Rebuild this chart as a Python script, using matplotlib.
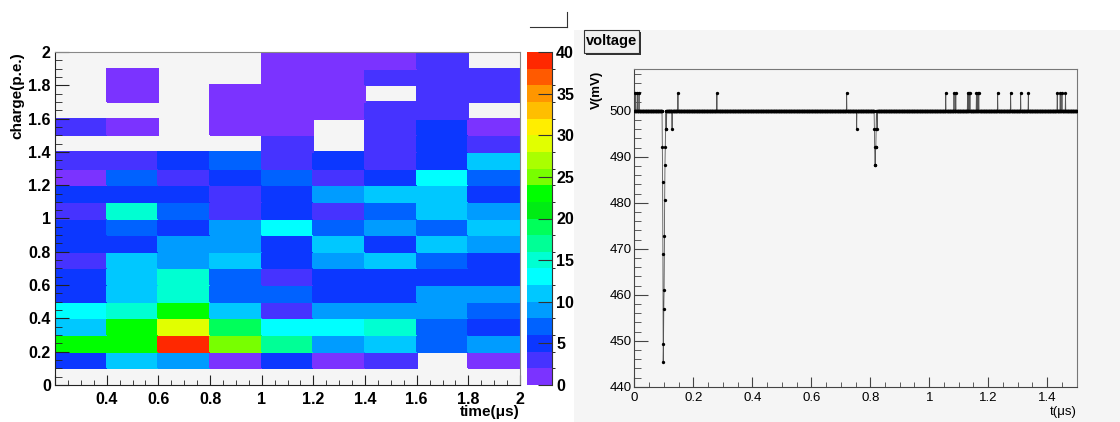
import numpy as np
import matplotlib
matplotlib.use('Agg')
import matplotlib.pyplot as plt
from matplotlib.colors import ListedColormap, BoundaryNorm
from matplotlib.patches import Rectangle
from matplotlib.lines import Line2D
from matplotlib.ticker import MultipleLocator, FuncFormatter

# ---- left panel: charge vs time histogram ----
time_edges = [0.2, 0.4, 0.6, 0.8, 1.0, 1.2, 1.4, 1.6, 1.8, 2.0]
charge_edges = [0.0, 0.1, 0.2, 0.3, 0.4, 0.5, 0.6, 0.7, 0.8, 0.9, 1.0,
                1.1, 1.2, 1.3, 1.4, 1.5, 1.6, 1.7, 1.8, 1.9, 2.0]

# counts per bin, first row = charge 0-0.1 (bottom), 0 = empty bin
counts = [
    [0, 0, 0, 0, 0, 0, 0, 0, 0],
    [5, 11, 9, 1, 5, 1, 3, 0, 1],
    [23, 23, 39, 25, 17, 9, 11, 7, 9],
    [11, 23, 29, 19, 13, 13, 15, 7, 5],
    [13, 15, 23, 11, 3, 9, 9, 9, 7],
    [5, 11, 15, 7, 7, 5, 5, 9, 9],
    [5, 11, 15, 7, 3, 5, 5, 5, 5],
    [3, 11, 9, 11, 5, 9, 11, 7, 5],
    [5, 5, 9, 9, 5, 11, 5, 11, 9],
    [5, 7, 5, 9, 13, 7, 9, 7, 11],
    [3, 15, 7, 3, 5, 3, 7, 11, 9],
    [5, 5, 5, 3, 5, 9, 11, 11, 5],
    [1, 7, 3, 5, 7, 3, 5, 13, 7],
    [3, 3, 5, 7, 3, 5, 3, 5, 11],
    [0, 0, 0, 0, 3, 0, 3, 5, 3],
    [3, 1, 0, 1, 1, 0, 3, 5, 1],
    [0, 0, 0, 1, 1, 1, 3, 3, 0],
    [0, 1, 0, 1, 1, 1, 0, 3, 3],
    [0, 1, 0, 0, 1, 1, 3, 3, 3],
    [0, 0, 0, 0, 1, 1, 1, 3, 0],
]
z_levels = [0, 2, 4, 6, 8, 10, 12, 14, 16, 18, 20,
            22, 24, 26, 28, 30, 32, 34, 36, 38, 40]
level_colors = ['#7b33ff', '#4633ff', '#0c37ff', '#0062ff', '#009cff',
                '#00c8ff', '#00ffff', '#00ffd2', '#00ff96', '#00ff5a',
                '#00ec14', '#00ff00', '#78ff00', '#aaff00', '#e1ff00',
                '#ffee00', '#ffbe00', '#ff9600', '#ff5a00', '#ff2800']

# ---- right panel: waveform ----
baseline_mv = 500.0
t_start, t_stop, t_step = 0.0, 1.5, 0.001
spike_times = [0.004, 0.010, 0.016, 0.148, 0.280, 0.720, 1.056, 1.084, 1.090,
               1.130, 1.134, 1.138, 1.160, 1.164, 1.168, 1.232, 1.276, 1.310,
               1.336, 1.434, 1.444, 1.450, 1.462]
spike_mv = 503.9
dip_times = [0.095, 0.096, 0.097, 0.098, 0.099, 0.100, 0.101, 0.102, 0.103,
             0.104, 0.105, 0.106, 0.109, 0.128, 0.754,
             0.814, 0.815, 0.816, 0.817, 0.818, 0.819, 0.820, 0.824]
dip_mv = [492.2, 484.4, 468.8, 445.3, 449.2, 457.0, 461.0, 472.7, 480.5,
          488.3, 492.2, 496.1, 496.1, 496.1, 496.1,
          496.1, 492.2, 488.3, 488.3, 492.2, 492.2, 496.1, 496.1]

W, H = 1120, 422
fig = plt.figure(figsize=(W / 100, H / 100), dpi=100)
fig.patch.set_facecolor('white')


def fx(px):
    return px / W


def fy(py):
    return 1 - py / H


bold = {'family': ['Liberation Sans', 'DejaVu Sans'], 'weight': 'bold'}
narrow = ['Liberation Sans Narrow', 'Liberation Sans', 'DejaVu Sans']
fmt = FuncFormatter(lambda v, p: '%g' % round(v, 3))
# the first bin edge of the time axis carries no label
fmt_time = FuncFormatter(lambda v, p: '' if abs(v - time_edges[0]) < 1e-6 else '%g' % round(v, 3))

# gray pad behind the right panel
fig.patches.append(Rectangle((fx(574), 0), 1 - fx(574), fy(30), transform=fig.transFigure,
                             facecolor='#f5f5f5', edgecolor='none', zorder=-5))
fig.add_artist(Line2D([fx(530), fx(567)], [fy(27), fy(27)], color='#333333', lw=0.8))
fig.add_artist(Line2D([fx(567), fx(567)], [fy(12), fy(27)], color='#333333', lw=0.8))

# left histogram
ax1 = fig.add_axes([fx(55), fy(385), fx(520) - fx(55), fy(52) - fy(385)])
ax1.set_facecolor('#f5f5f5')
cmap = ListedColormap(level_colors)
norm = BoundaryNorm(z_levels, cmap.N)
z = np.ma.masked_equal(np.array(counts, dtype=float), 0)
mesh = ax1.pcolormesh(time_edges, charge_edges, z, cmap=cmap, norm=norm,
                      edgecolor='face', linewidth=0.2)
ax1.set_xlim(time_edges[0], time_edges[-1])
ax1.set_ylim(charge_edges[0], charge_edges[-1])
ax1.xaxis.set_major_locator(MultipleLocator(0.2))
ax1.xaxis.set_minor_locator(MultipleLocator(0.05))
ax1.yaxis.set_major_locator(MultipleLocator(0.2))
ax1.yaxis.set_minor_locator(MultipleLocator(0.05))
ax1.xaxis.set_major_formatter(fmt_time)
ax1.yaxis.set_major_formatter(fmt)
ax1.tick_params(which='both', direction='in', top=False, right=False, color='#222222')
ax1.tick_params(axis='y', which='major', length=10, pad=3)
ax1.tick_params(axis='y', which='minor', length=5)
ax1.tick_params(axis='x', which='major', length=7, pad=5)
ax1.tick_params(axis='x', which='minor', length=3.5)
for lab in ax1.get_xticklabels() + ax1.get_yticklabels():
    lab.set_fontproperties(bold)
    lab.set_fontsize(11.5)
for s in ['top', 'right']:
    ax1.spines[s].set_color('#888888')
for s in ['bottom', 'left']:
    ax1.spines[s].set_color('#222222')
ax1.text(-0.08, 1.0, 'charge(p.e.)', transform=ax1.transAxes, rotation=90,
         ha='center', va='top', fontsize=11, fontdict=bold)
ax1.text(1.0, -0.081, 'time(\u03bcs)', transform=ax1.transAxes,
         ha='right', va='center', fontsize=11, fontdict=bold)

# colour bar
cax = fig.add_axes([fx(527), fy(385), fx(552) - fx(527), fy(52) - fy(385)])
cb = fig.colorbar(mesh, cax=cax, ticks=range(0, 41, 5))
cb.outline.set_visible(False)
cax.spines['right'].set_visible(True)
cax.spines['right'].set_color('#333333')
cax.spines['right'].set_linewidth(0.8)
cax.tick_params(direction='in', length=10, width=0.8, color='#333333', pad=3)
for lab in cax.get_yticklabels():
    lab.set_fontproperties(bold)
    lab.set_fontsize(11.5)

# right waveform
t = np.round(np.arange(t_start, t_stop + t_step / 2, t_step), 3)
v = np.full(t.shape, baseline_mv)
for ts in spike_times:
    v[np.argmin(np.abs(t - ts))] = spike_mv
for ts, mv in zip(dip_times, dip_mv):
    v[np.argmin(np.abs(t - ts))] = mv

ax2 = fig.add_axes([fx(634.3), fy(386.7), fx(1076.7) - fx(634.3), fy(69.3) - fy(386.7)])
ax2.set_facecolor('#f5f5f5')
ax2.plot(t, v, color='#555555', lw=0.6, marker='o', ms=2.4, mfc='black', mec='black',
         mew=0, zorder=3)
ax2.set_xlim(0, 1.5)
ax2.set_ylim(440, 509)
ax2.xaxis.set_major_locator(MultipleLocator(0.2))
ax2.xaxis.set_minor_locator(MultipleLocator(0.05))
ax2.yaxis.set_major_locator(MultipleLocator(10))
ax2.yaxis.set_minor_locator(MultipleLocator(2))
ax2.xaxis.set_major_formatter(fmt)
ax2.tick_params(which='both', direction='in', top=False, right=False, color='#444444')
ax2.tick_params(axis='y', which='major', length=10, pad=2)
ax2.tick_params(axis='y', which='minor', length=5)
ax2.tick_params(axis='x', which='major', length=7, pad=4)
ax2.tick_params(axis='x', which='minor', length=3.5)
for lab in ax2.get_xticklabels() + ax2.get_yticklabels():
    lab.set_family(narrow)
    lab.set_fontsize(9.5)
for s in ['top', 'right']:
    ax2.spines[s].set_color('#777777')
for s in ['bottom', 'left']:
    ax2.spines[s].set_color('#444444')
ax2.text(-0.084, 0.995, 'V(mV)', transform=ax2.transAxes, rotation=90,
         ha='center', va='top', fontsize=9.5, fontdict=bold)
ax2.text(1.0, -0.08, 't(\u03bcs)', transform=ax2.transAxes, ha='right', va='center',
         fontsize=9.5, family=narrow)

# title box
fig.patches.append(Rectangle((fx(586), fy(55)), fx(641) - fx(586), fy(32) - fy(55),
                             transform=fig.transFigure, facecolor='#333333',
                             edgecolor='none', zorder=4))
fig.patches.append(Rectangle((fx(584), fy(53)), fx(639) - fx(584), fy(30) - fy(53),
                             transform=fig.transFigure, facecolor='#f0f0f0',
                             edgecolor='#333333', lw=0.8, zorder=5))
fig.text(fx(611.5), fy(41.5), 'voltage', ha='center', va='center', fontsize=10.5,
         family=narrow, weight='bold', zorder=6)

fig.savefig('out.png', dpi=100)
